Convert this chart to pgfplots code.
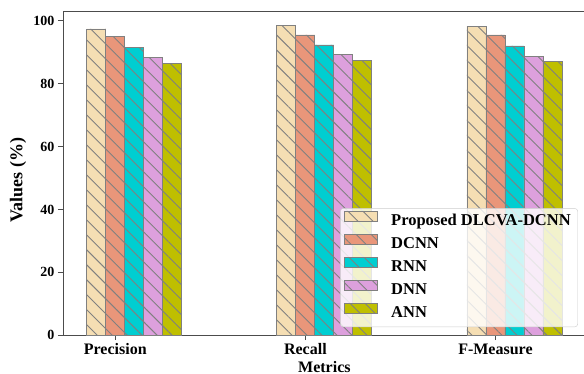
\documentclass[border=0pt]{standalone}
\usepackage{fontspec}
\setmainfont{Liberation Serif}
\usepackage{pgfplots}
\pgfplotsset{compat=1.18}
\usetikzlibrary{patterns.meta}
\definecolor{cwheat}{HTML}{F5DEB3}
\definecolor{csalmon}{HTML}{E9967A}
\definecolor{cturq}{HTML}{00CED1}
\definecolor{cplum}{HTML}{DDA0DD}
\definecolor{colive}{HTML}{BFBF00}
\tikzset{hatchbar/.style={draw=gray, line width=0.8pt, postaction={pattern={Lines[angle=-45,distance=10.6pt,line width=0.9pt]}, pattern color=gray}}}
\begin{document}
\begin{tikzpicture}
\begin{axis}[
  name=ax,
  scale only axis,
  width=522.75pt, height=324.2pt,
  xmin=-0.175, xmax=2.575, ymin=0, ymax=103.1,
  ybar, bar width=0.1,
  xtick={0.1,1.1,2.1},
  xticklabels={Precision,Recall,F-Measure},
  ytick={0,20,40,60,80,100},
  xtick pos=lower, ytick pos=left,
  tick align=outside, major tick length=5pt,
  tick style={black!70, line width=0.8pt},
  axis line style={black!70, line width=0.8pt},
  /pgf/number format/assume math mode=true,
  yticklabel style={font=\bfseries\fontsize{14}{16}\selectfont},
  xticklabel style={font=\bfseries\fontsize{16}{19}\selectfont},
  xlabel={Metrics},
  ylabel={Values (\%)},
  xlabel style={font=\bfseries\fontsize{16}{19}\selectfont, at={(axis description cs:0.5,0)}, anchor=base, yshift=-37.5pt},
  ylabel style={font=\bfseries\fontsize{18}{21}\selectfont, at={(axis description cs:0,0.5)}, anchor=center, yshift=45pt, xshift=-7pt},
  legend image code/.code={\draw[#1, sharp corners, fill opacity=1, draw opacity=1] (3pt,0.3pt) rectangle (36pt,10.3pt);},
  legend cell align=left,
  legend style={at={(0.985,0.025)}, anchor=south east, draw=black!20, fill=white, fill opacity=0.8, draw opacity=1, text opacity=1, rounded corners=3pt, inner xsep=4pt, inner ysep=2pt, font=\bfseries\fontsize{16.5}{19}\selectfont, row sep=0pt, nodes={inner xsep=3pt, inner ysep=3.45pt, text height=12pt, text depth=4pt}, /tikz/every odd column/.append style={column sep=10pt}},
]
\addplot[bar shift=0pt, fill=cwheat, hatchbar] coordinates {(0,97.4) (1,98.6) (2,98.3)};
\addplot[bar shift=0pt, fill=csalmon, hatchbar] coordinates {(0.1,95.0) (1.1,95.5) (2.1,95.5)};
\addplot[bar shift=0pt, fill=cturq, hatchbar] coordinates {(0.2,91.4) (1.2,92.3) (2.2,92.0)};
\addplot[bar shift=0pt, fill=cplum, hatchbar] coordinates {(0.3,88.2) (1.3,89.3) (2.3,88.7)};
\addplot[bar shift=0pt, fill=colive, hatchbar] coordinates {(0.4,86.5) (1.4,87.3) (2.4,87.0)};
\legend{Proposed DLCVA-DCNN,DCNN,RNN,DNN,ANN}
\end{axis}
\pgfresetboundingbox
\path[use as bounding box] (ax.south west) ++(-63pt,-37.8pt) rectangle ++(584pt,373pt);
\end{tikzpicture}
\end{document}
